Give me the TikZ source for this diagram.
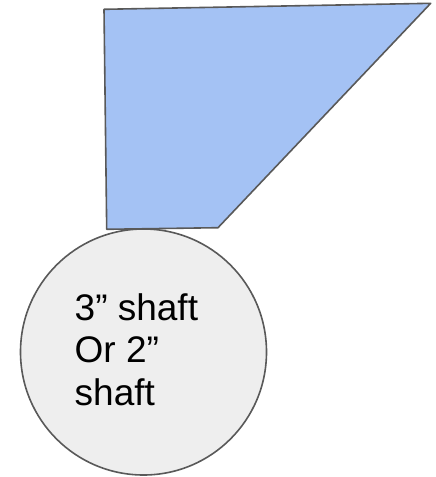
\documentclass[tikz,border=0pt]{standalone}
\usepackage{fontspec}
\setmainfont{Liberation Sans}
\definecolor{shapeblue}{HTML}{A4C2F4}
\definecolor{shapegray}{HTML}{EEEEEE}
\definecolor{edgegray}{HTML}{595959}
\begin{document}
\begin{tikzpicture}[x=1pt,y=-1pt,
  outline/.style={draw=edgegray,line width=1.6pt,line join=round},
  label/.style={inner sep=0pt,anchor=base west,font=\fontsize{37}{42.5}\selectfont}]
\useasboundingbox (0,0) rectangle (436,477);
\node[outline,fill=shapegray,circle,minimum size=246pt,inner sep=0pt] (shaft) at (143.5,352) {};
\draw[outline,fill=shapeblue] (104,9.3) -- (430.7,3.3) -- (218,227.7) -- (106.7,229.3) -- cycle;
\node[label] (l1) at (74.5,320) {3” shaft};
\node[label] (l2) at (74.5,362.5) {Or 2”};
\node[label] (l3) at (74.5,405) {shaft};
\end{tikzpicture}
\end{document}
